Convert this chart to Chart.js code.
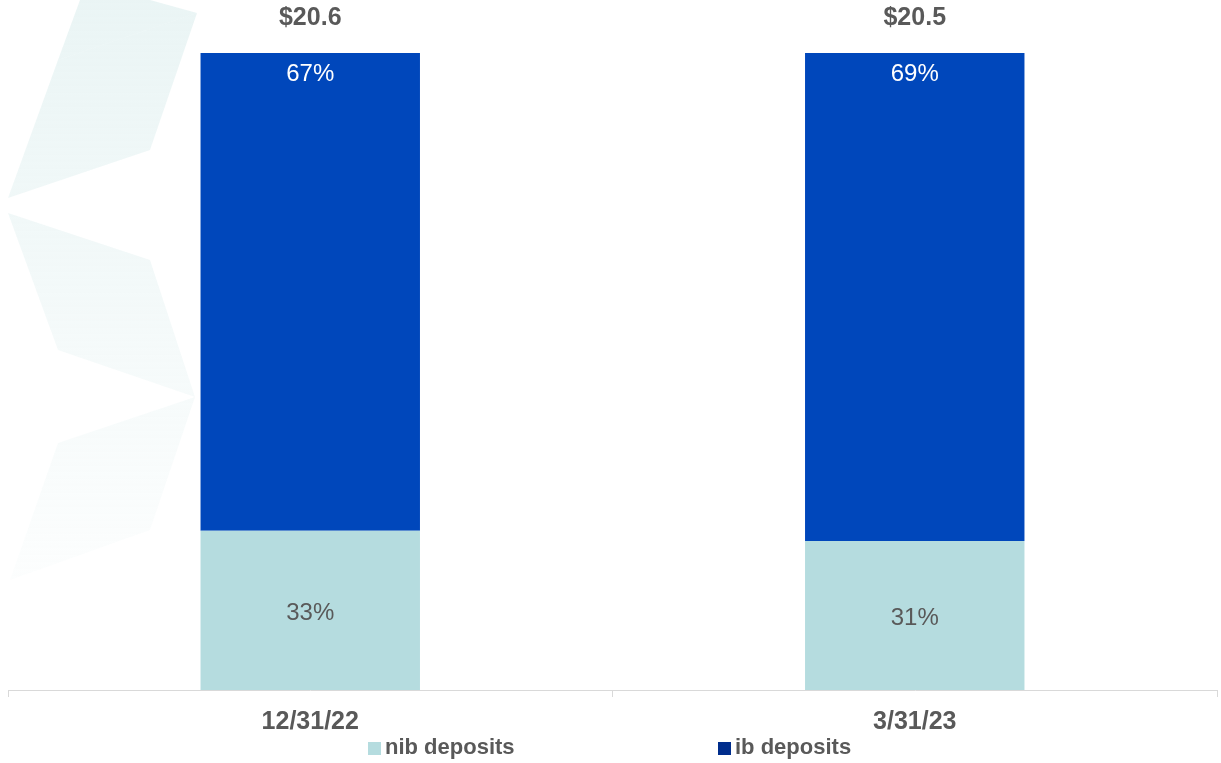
<!DOCTYPE html>
<html>
<head>
<meta charset="utf-8">
<script src="https://cdn.jsdelivr.net/npm/chart.js@4/dist/chart.umd.min.js"></script>
<style>
	html, body { margin: 0; padding: 0; background: #fff; }
	#wrap { width: 1221px; height: 763px; position: relative; }
</style>
</head>
<body>
<div id="wrap"><canvas id="myChart"></canvas></div>
<script>
// values
var categories = ['12/31/22', '3/31/23'];
var nibHeights = [25.0, 23.4];   // segment heights as drawn (share of bar)
var ibHeights = [75.0, 76.6];
var nibLabels = ['33%', '31%'];
var ibLabels = ['67%', '69%'];
var totals = [20.6, 20.5];       // $ billions, shown above the bars

var GRAY = '#595959';
var FONT = '"Liberation Sans", Arial, sans-serif';

// faint star watermark on the left edge
var watermark = {
	id: 'watermark',
	beforeDraw: function(chart){
		var ctx = chart.ctx;
		var shapes = [
			[[197, 13], [150, 150], [8, 198], [58, 60]],
			[[8, 213], [150, 260], [195, 397], [58, 350]],
			[[195, 397], [150, 530], [10, 580], [58, 443]],
			[[150, 0], [197, 13], [58, 60], [80, 0]]
		];
		ctx.save();
		var grad = ctx.createLinearGradient(0, 0, 0, 600);
		grad.addColorStop(0, 'rgba(200,228,228,0.38)');
		grad.addColorStop(1, 'rgba(200,228,228,0.04)');
		ctx.fillStyle = grad;
		shapes.forEach(function(s){
			ctx.beginPath();
			ctx.moveTo(s[0][0], s[0][1]);
			for (var i = 1; i < s.length; i++) ctx.lineTo(s[i][0], s[i][1]);
			ctx.closePath();
			ctx.fill();
		});
		ctx.restore();
	}
};

// percent labels inside the bars and totals on top
var barLabels = {
	id: 'barLabels',
	afterDatasetsDraw: function(chart){
		var ctx = chart.ctx;
		var nibMeta = chart.getDatasetMeta(0);
		var ibMeta = chart.getDatasetMeta(1);
		ctx.save();
		ctx.textAlign = 'center';
		ctx.textBaseline = 'middle';
		nibMeta.data.forEach(function(bar, i){
			ctx.font = '24px ' + FONT;
			ctx.fillStyle = GRAY;
			ctx.fillText(nibLabels[i], bar.x, (bar.y + bar.base) / 2 + 3);
		});
		ibMeta.data.forEach(function(bar, i){
			ctx.font = '24px ' + FONT;
			ctx.fillStyle = '#ffffff';
			ctx.fillText(ibLabels[i], bar.x, bar.y + 21);
			ctx.font = 'bold 25px ' + FONT;
			ctx.fillStyle = GRAY;
			ctx.fillText('$' + totals[i].toFixed(1), bar.x, bar.y - 35);
		});
		ctx.restore();
	}
};

// legend spread out under the axis like the original
var spreadLegend = {
	id: 'spreadLegend',
	afterDraw: function(chart){
		var ctx = chart.ctx;
		var starts = [368, 718];
		var colors = ['#B5DCDF', '#002D8C'];
		ctx.save();
		ctx.font = 'bold 22px ' + FONT;
		ctx.textBaseline = 'middle';
		ctx.textAlign = 'left';
		chart.data.datasets.forEach(function(ds, i){
			ctx.fillStyle = colors[i];
			ctx.fillRect(starts[i], 742, 13, 13);
			ctx.fillStyle = GRAY;
			ctx.fillText(ds.label, starts[i] + 17, 748);
		});
		ctx.restore();
	}
};

var ctx = document.getElementById('myChart').getContext('2d');
var myChart = new Chart(ctx, {
	type: 'bar',
	data: {
		labels: categories,
		datasets: [
		{
			label: 'nib deposits',
			data: nibHeights,
			backgroundColor: '#B5DCDF',
			barPercentage: 0.363,
			categoryPercentage: 1
		},
		{
			label: 'ib deposits',
			data: ibHeights,
			backgroundColor: '#0047BB',
			barPercentage: 0.363,
			categoryPercentage: 1
		}]
	},
	options: {
		responsive: true,
		maintainAspectRatio: false,
		animation: false,
		layout: { padding: { top: 53, left: 8, right: 4, bottom: 0 } },
		plugins: {
			legend: { display: false },
			tooltip: { enabled: false }
		},
		scales: {
			x: {
				stacked: true,
				afterFit: function(scale){ scale.height = 73; },
				border: { color: '#d9d9d9', width: 1 },
				grid: {
					offset: true,
					drawOnChartArea: false,
					drawTicks: true,
					tickLength: 7,
					color: '#d9d9d9'
				},
				ticks: {
					color: GRAY,
					padding: 10,
					font: { family: FONT, size: 25, weight: 'bold' }
				}
			},
			y: {
				stacked: true,
				display: false,
				min: 0,
				max: 100
			}
		}
	},
	plugins: [watermark, barLabels, spreadLegend]
});
</script>
</body>
</html>
